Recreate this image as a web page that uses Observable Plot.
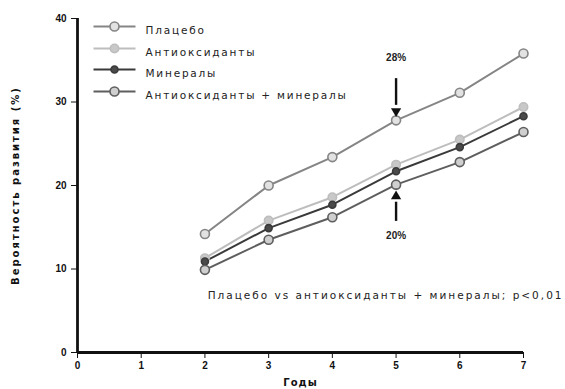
<!DOCTYPE html>
<html><head><meta charset="utf-8">
<script src="https://cdn.jsdelivr.net/npm/d3@7"></script>
<script src="https://cdn.jsdelivr.net/npm/@observablehq/plot@0.6"></script>
<style>
body{margin:0;background:#fff;}
svg{font-family:"Liberation Sans",Arial,sans-serif;}
.wide text{font-family:"DejaVu Sans",sans-serif;letter-spacing:1.8px;}
.wider text{font-family:"DejaVu Sans",sans-serif;letter-spacing:2px;}
g[aria-label="y-axis label"] text{font-family:"DejaVu Sans",sans-serif;letter-spacing:2px;font-size:10px;font-weight:bold;}
g[aria-label="x-axis label"] text{font-family:"DejaVu Sans",sans-serif;letter-spacing:1px;font-size:10px;}
</style>
</head><body><div id="chart"></div>
<script>
const years = [2, 3, 4, 5, 6, 7];
const seriesNames = ["Плацебо", "Антиоксиданты", "Минералы", "Антиоксиданты + минералы"];
const placebo = [14.2, 20.0, 23.4, 27.8, 31.1, 35.8];
const antioxidants = [11.3, 15.8, 18.6, 22.5, 25.5, 29.4];
const minerals = [10.9, 14.9, 17.7, 21.7, 24.6, 28.3];
const combined = [9.9, 13.5, 16.2, 20.1, 22.8, 26.4];
const xTicks = [0, 1, 2, 3, 4, 5, 6, 7];
const yTicks = [0, 10, 20, 30, 40];
const note = "Плацебо vs антиоксиданты + минералы; p<0,01";
const annotations = [
  {x: 5, label: "28%", labelY: 35.3, from: 32.8, to: 29.6, tip: 28.9, rot: 180},
  {x: 5, label: "20%", labelY: 14.0, from: 15.7, to: 18.0, tip: 18.7, rot: 0}
];

const styles = [
  {stroke: "#858585", fill: "#e2e2e2", r: 4.5},
  {stroke: "#bdbdbd", fill: "#c8c8c8", r: 4.2},
  {stroke: "#3a3a3a", fill: "#4a4a4a", r: 3.5},
  {stroke: "#5e5e5e", fill: "#cfcfcf", r: 4.5}
];
const allValues = [placebo, antioxidants, minerals, combined];
const data = [];
seriesNames.forEach((s, i) => years.forEach((yr, j) => data.push({series: s, idx: i, year: yr, value: allValues[i][j]})));

const lineSymbol = {draw(ctx, size) { ctx.moveTo(-21, 0); ctx.lineTo(21, 0); }};

const marks = [];
seriesNames.forEach((s, i) => {
  const d = data.filter(e => e.idx === i);
  marks.push(Plot.line(d, {x: "year", y: "value", stroke: styles[i].stroke, strokeWidth: 2}));
});
seriesNames.forEach((s, i) => {
  const d = data.filter(e => e.idx === i);
  marks.push(Plot.dot(d, {x: "year", y: "value", r: styles[i].r, stroke: styles[i].stroke, fill: styles[i].fill, strokeWidth: 1.6}));
});
// legend
const rowDy = [8, 30, 51, 73];
seriesNames.forEach((s, i) => {
  marks.push(Plot.dot([s], {frameAnchor: "top-left", dx: 37, dy: rowDy[i], symbol: lineSymbol, r: 5, stroke: styles[i].stroke, strokeWidth: 2.2}));
  marks.push(Plot.dot([s], {frameAnchor: "top-left", dx: 37, dy: rowDy[i], r: styles[i].r, stroke: styles[i].stroke, fill: styles[i].fill, strokeWidth: 1.6}));
  marks.push(Plot.text([s], {frameAnchor: "top-left", dx: 68, dy: rowDy[i], text: d => d, textAnchor: "start", fontSize: 10.5, fill: "#222", className: "wide"}));
});
// annotations
marks.push(Plot.ruleX(annotations, {x: "x", y1: "from", y2: "to", stroke: "#111", strokeWidth: 2.4}));
marks.push(Plot.dot(annotations, {x: "x", y: "tip", symbol: "triangle", r: 3.8, fill: "#111", rotate: "rot"}));
marks.push(Plot.text(annotations, {x: "x", y: "labelY", text: "label", fontSize: 10, fontWeight: "bold", fill: "#222"}));
marks.push(Plot.text([note], {frameAnchor: "bottom-right", dx: 40, dy: -54, text: d => d, textAnchor: "end", fontSize: 10.5, fill: "#222", className: "wider"}));
// axes
marks.push(Plot.axisX({ticks: xTicks, tickSize: 6, tickWidth: 2, tickFormat: d => d, fontSize: 10, fontWeight: "bold", label: "Годы", labelAnchor: "center", labelArrow: "none", labelOffset: 33}));
marks.push(Plot.axisY({ticks: yTicks, tickSize: 6, tickWidth: 2, tickPadding: 5, fontSize: 10, fontWeight: "bold", label: "Вероятность развития (%)", labelAnchor: "center", labelArrow: "none", labelOffset: 66}));
marks.push(Plot.ruleX([0], {y1: 0, y2: 40, stroke: "#111", strokeWidth: 2.8}));
marks.push(Plot.ruleY([0], {x1: 0, x2: 7, stroke: "#111", strokeWidth: 2.8}));

const chart = Plot.plot({
  width: 565, height: 389,
  marginLeft: 77, marginRight: 42, marginTop: 18, marginBottom: 37,
  x: {domain: [0, 7]},
  y: {domain: [0, 40]},
  style: {fontFamily: "'Liberation Sans', Arial, sans-serif", color: "#111", background: "#fff"},
  marks
});
document.getElementById("chart").appendChild(chart);
</script>
</body></html>
